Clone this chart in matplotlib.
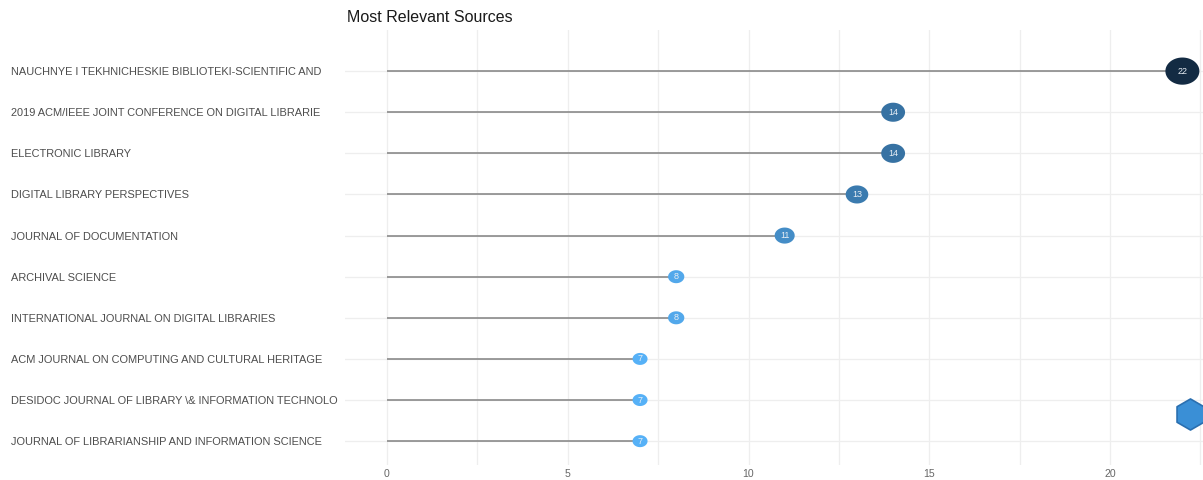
import numpy as np
import matplotlib
matplotlib.use('Agg')
import matplotlib.pyplot as plt
from matplotlib.path import Path
from matplotlib.colors import LinearSegmentedColormap

plt.rcParams['font.family'] = ['Liberation Sans', 'DejaVu Sans']

sources = ['NAUCHNYE I TEKHNICHESKIE BIBLIOTEKI-SCIENTIFIC AND',
           '2019 ACM/IEEE JOINT CONFERENCE ON DIGITAL LIBRARIE',
           'ELECTRONIC LIBRARY',
           'DIGITAL LIBRARY PERSPECTIVES',
           'JOURNAL OF DOCUMENTATION',
           'ARCHIVAL SCIENCE',
           'INTERNATIONAL JOURNAL ON DIGITAL LIBRARIES',
           'ACM JOURNAL ON COMPUTING AND CULTURAL HERITAGE',
           'DESIDOC JOURNAL OF LIBRARY \\& INFORMATION TECHNOLO',
           'JOURNAL OF LIBRARIANSHIP AND INFORMATION SCIENCE']
docs = [22, 14, 14, 13, 11, 8, 8, 7, 7, 7]
xticks = [0, 5, 10, 15, 20]

dpi = 100
fig = plt.figure(figsize=(12.03, 4.8), dpi=dpi)
ax = fig.add_axes([345/1203, 15/480, 1 - 345/1203, 435/480])

y = np.arange(len(sources))
vals = np.array(docs, dtype=float)

# colour scale like ggplot default gradient (high = dark)
cmap = LinearSegmentedColormap.from_list('gg', ['#56B1F7', '#132B43'])
norm = plt.Normalize(vals.min(), vals.max())

# horizontal segments
ax.hlines(y, 0, vals, color='#8a8a8a', lw=1.2, zorder=2)

# slightly stretched ellipse marker
t = np.linspace(0, 2*np.pi, 60)
ell = Path(np.column_stack([np.cos(t), 0.8*np.sin(t)]), closed=True)
diam_px = 15 + (vals - vals.min()) * (19 / (vals.max() - vals.min()))
sizes = (diam_px * 72 / dpi) ** 2
ax.scatter(vals, y, s=sizes, c=vals, cmap=cmap, norm=norm, marker=ell,
           linewidths=0, zorder=3)
for xv, yv in zip(vals, y):
    ax.text(xv, yv, '%d' % xv, color='#e8eef5', fontsize=6.5, ha='center',
            va='center', zorder=4)

ax.set_xlim(-1.16, 22.57)
ax.set_ylim(len(sources) - 1 + 0.58, -1.0)
ax.set_xticks(xticks)
ax.set_xticks(np.arange(2.5, 22.6, 5), minor=True)
ax.set_yticks(y)
ax.set_yticklabels(sources)
for lab in ax.get_yticklabels():
    lab.set_horizontalalignment('left')
ax.tick_params(axis='y', length=0, pad=(345 - 11) * 72 / dpi,
               labelsize=7.9, labelcolor='#4d4d4d')
ax.tick_params(axis='x', which='both', length=0, pad=3,
               labelsize=7.6, labelcolor='#666666')
ax.grid(True, which='both', color='#eeeeee', lw=0.9)
ax.set_axisbelow(True)
for s in ax.spines.values():
    s.set_visible(False)

fig.text(347/1203, 1 - 18/480, 'Most Relevant Sources', fontsize=11.5,
         color='#1a1a1a', va='center', ha='left')

# watermark logo (bibliometrix) bottom right
ax.scatter([0.985], [0.118], s=500, marker='h', color='#3a8fd6',
           edgecolors='#2a6fb0', linewidths=1.2, transform=ax.transAxes,
           zorder=5, clip_on=False)

fig.savefig('out.png', dpi=dpi)
